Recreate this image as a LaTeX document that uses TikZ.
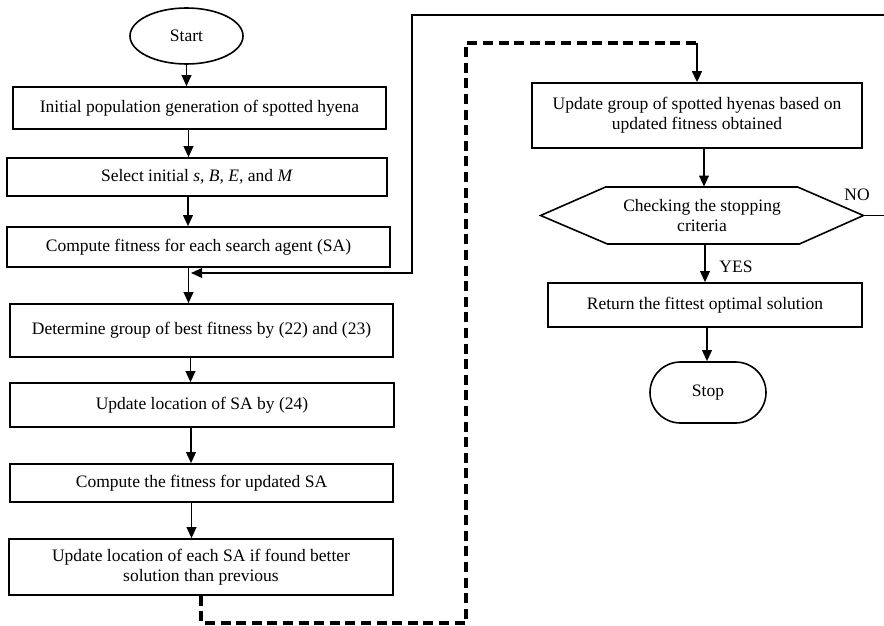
\documentclass[tikz,border=0pt]{standalone}
\usepackage{fontspec}
\setmainfont{Liberation Serif}
\usetikzlibrary{arrows.meta,shapes.geometric,shapes.misc}
\newcommand{\fs}{\fontsize{8.75}{10}\selectfont}
\tikzset{
  pbox/.style 2 args={draw, line width=0.8pt, rectangle, inner sep=0pt,
    minimum width=#1*0.5pt, minimum height=#2*0.5pt, align=center, font=\fs},
  arr/.style={line width=0.9pt, -{Triangle[length=5.5pt,width=4.8pt]}},
  dashline/.style={line width=1.8pt, dash pattern=on 5pt off 2.8pt},
  lbl/.style={font=\fs, inner sep=0pt}
}
\begin{document}
\begin{tikzpicture}[x=0.5pt,y=-0.5pt]
\useasboundingbox (0,0) rectangle (884,626);
% left column
\node[draw, ellipse, line width=0.8pt, inner sep=0pt, minimum width=56.5pt, minimum height=28pt, font=\fs] (start) at (186.5,36) {Start};
\node[pbox={373}{42}] (b1) at (199.5,108) {Initial population generation of spotted hyena};
\node[pbox={380}{38}] (b2) at (197,177) {Select initial \textit{s, B, E,} and \textit{M}};
\node[pbox={383}{40}] (b3) at (198.5,247) {Compute fitness for each search agent (SA)};
\node[pbox={383}{53}] (b4) at (201.5,330.5) {Determine group of best fitness by (22) and (23)};
\node[pbox={384}{44}] (b5) at (202,405) {Update location of SA by (24)};
\node[pbox={383}{38}] (b6) at (201.5,483) {Compute the fitness for updated SA};
\node[pbox={384}{56}] (b7) at (201,567) {Update location of each SA if found better\\solution than previous};
% right column
\node[pbox={330}{65}] (b8) at (697,115.5) {Update group of spotted hyenas based on\\updated fitness obtained};
\node[inner sep=0pt, minimum width=161pt, minimum height=28.5pt, align=center, font=\fs] (hex) at (702,215.5) {Checking the stopping\\criteria};
\draw[line width=0.8pt] (hex.west) -- ++(65,-28.5) -- ++(192,0) -- (hex.east) -- ++(-64,28.5) -- ++(-192,0) -- cycle;
\node[pbox={314}{44}] (b9) at (705,305) {Return the fittest optimal solution};
\node[draw, rounded rectangle, line width=0.8pt, inner sep=0pt, minimum width=58pt, minimum height=30.5pt, font=\fs] (stop) at (708,392.5) {Stop};
% labels
\node[lbl] (no) at (857,195) {NO};
\node[lbl] (yes) at (736,267) {YES};
% arrows left
\draw[arr] (start.south) -- (start.south |- b1.north);
\draw[arr] ([xshift=-5.5pt]b1.south) -- ([xshift=-5.5pt]b1.south |- b2.north);
\draw[arr] ([xshift=-4.5pt]b2.south) -- ([xshift=-4.5pt]b2.south |- b3.north);
\draw[arr] ([xshift=-5pt]b3.south) -- ([xshift=-5pt]b3.south |- b4.north);
\draw[arr] ([xshift=-5.5pt]b4.south) -- ([xshift=-5.5pt]b4.south |- b5.north);
\draw[arr] ([xshift=-5.5pt]b5.south) -- ([xshift=-5.5pt]b5.south |- b6.north);
\draw[arr] ([xshift=-5pt]b6.south) -- ([xshift=-5pt]b6.south |- b7.north);
% arrows right
\draw[arr] ([xshift=3.5pt]b8.south) -- ([xshift=3.5pt]b8.south |- hex.north);
\draw[arr] ([xshift=1.5pt]hex.south) -- ([xshift=1.5pt]hex.south |- b9.north);
\draw[arr] ([xshift=1pt]b9.south) -- ([xshift=1pt]b9.south |- stop.north);
% feedback NO loop
\coordinate (fb) at (191,273);
\draw[arr] (hex.east) -- (900,215.5) -- (900,15) -- (412,15) -- (412,273) -- (fb);
% dashed route
\coordinate (c1) at (697,43);
\draw[dashline] (b7.south) -- (b7.south |- 0,623) -- (466,623) -- (466,43) -- (c1);
\draw[arr, line width=1.3pt] (c1) -- (b8.north);
\end{tikzpicture}
\end{document}
